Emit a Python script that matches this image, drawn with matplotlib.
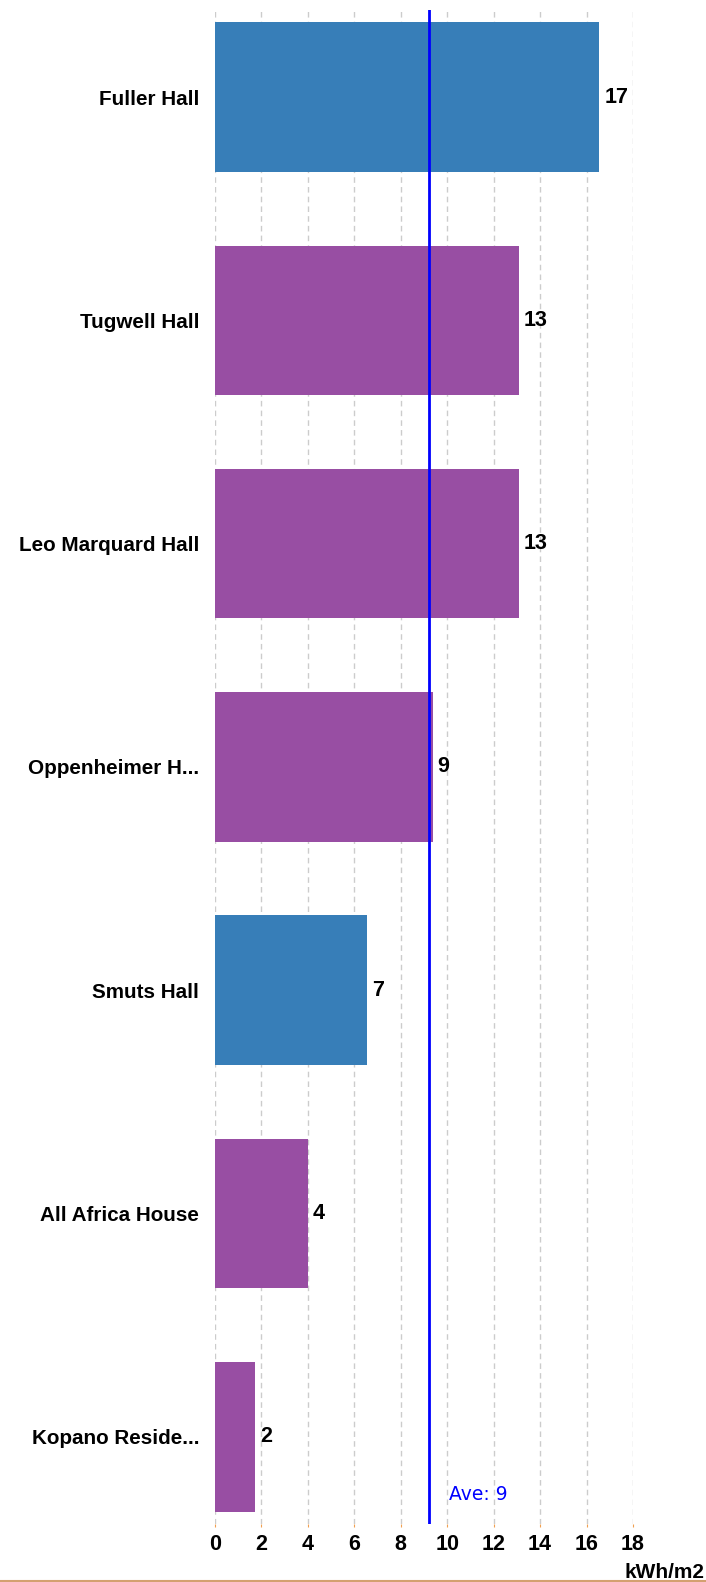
import matplotlib
matplotlib.use("Agg")
import matplotlib.pyplot as plt
from matplotlib.lines import Line2D

# data
halls = ["Fuller Hall", "Tugwell Hall", "Leo Marquard Hall", "Oppenheimer H...",
         "Smuts Hall", "All Africa House", "Kopano Reside..."]
values = [16.55, 13.1, 13.1, 9.38, 6.56, 3.99, 1.72]
bar_colors = ["#377eb8", "#984ea3", "#984ea3", "#984ea3", "#377eb8", "#984ea3", "#984ea3"]
x_ticks = [0, 2, 4, 6, 8, 10, 12, 14, 16, 18]
unit = "kWh/m2"

plt.rcParams['font.family'] = ['Liberation Sans', 'DejaVu Sans']

fig = plt.figure(figsize=(7.06, 15.82), dpi=100)
ax = fig.add_axes([0.3045, 0.0367, 0.5921, 0.957])

pos = list(range(len(halls)))
ax.barh(pos, values, height=0.67, color=bar_colors, zorder=2)
ax.set_ylim(len(halls) - 1 + 0.39, -0.39)
ax.set_xlim(0, 18)

ax.set_yticks(pos)
ax.set_yticklabels(halls, fontsize=14.9, fontweight='bold')
ax.tick_params(axis='y', length=0, pad=11.5)

ax.set_xticks(x_ticks)
ax.set_xticklabels([str(t) for t in x_ticks], fontsize=15.5, fontweight='bold')
ax.tick_params(axis='x', length=2, color='#f0a050', pad=5)

ax.grid(axis='x', color='#cccccc', linestyle=(0, (4, 3)), linewidth=1, zorder=0)
for s in ax.spines.values():
    s.set_visible(False)

# value labels at bar ends
for p, v in zip(pos, values):
    ax.annotate(str(round(v)), xy=(v, p), xytext=(3.5, 0), textcoords='offset points',
                ha='left', va='center', fontsize=15.5, fontweight='bold')

# average line
avg = sum(values) / len(values)
ax.axvline(avg, color='#0000ff', linewidth=2, zorder=3)
ax.annotate("Ave: %d" % round(avg), xy=(avg, 0), xycoords=('data', 'axes fraction'),
            xytext=(15, 21), textcoords='offset points', ha='left', va='center',
            fontsize=13.5, color='#0000ff', family=['DejaVu Sans'])

fig.text(0.998, 0.0025, unit, ha='right', va='baseline', fontsize=15, fontweight='bold')
fig.add_artist(Line2D([0, 1], [0.0006, 0.0006], color='#d4a070', linewidth=1.5,
                      transform=fig.transFigure))

fig.savefig("out.png", dpi=100)
